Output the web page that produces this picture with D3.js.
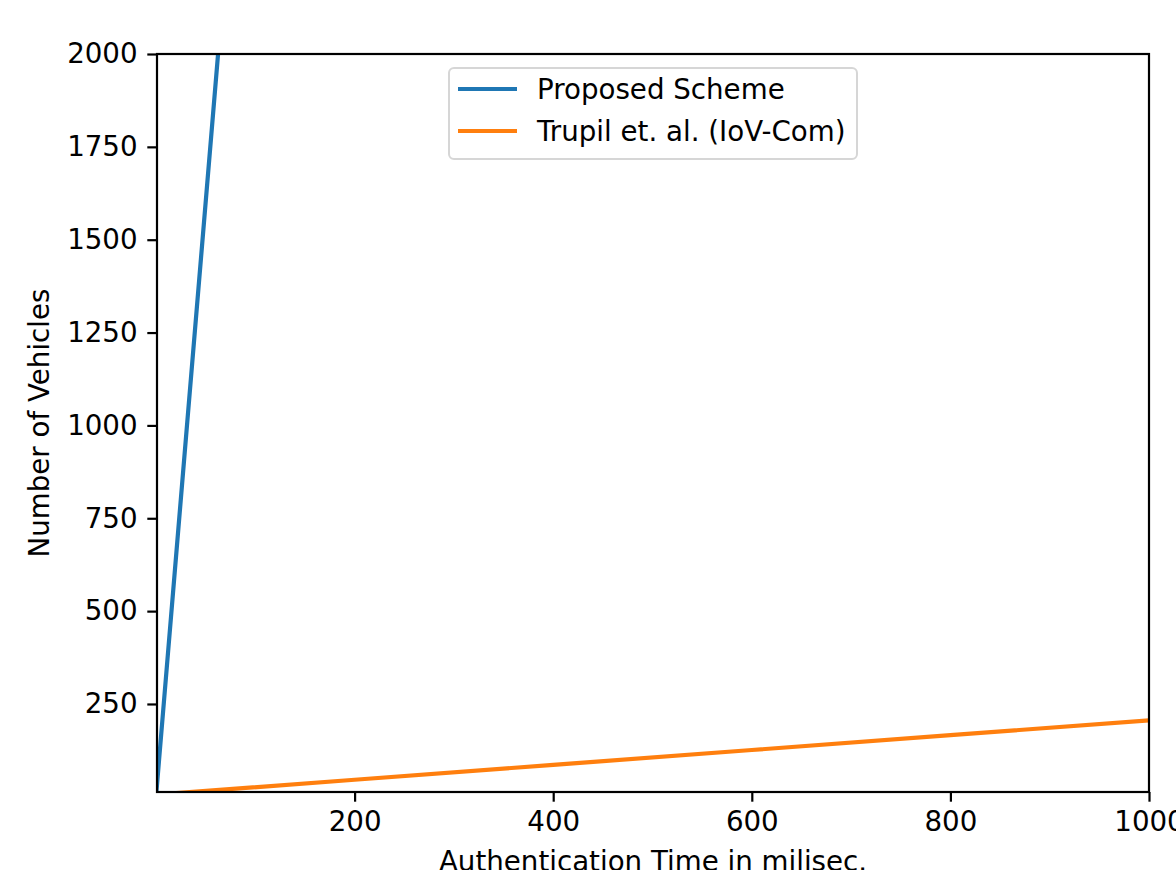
<!DOCTYPE html>
<html>
<head>
<meta charset="utf-8">
<script src="https://cdn.jsdelivr.net/npm/d3@7"></script>
<style>
  html, body { margin: 0; padding: 0; background: #fff; overflow: hidden; }
  svg { display: block; font-family: "DejaVu Sans", sans-serif; }
</style>
</head>
<body>
<svg id="chart" width="1176" height="870"></svg>
<script>
// ---- data ----
const seriesNames = ["Proposed Scheme", "Trupil et. al. (IoV-Com)"];
const seriesColors = ["#1f77b4", "#ff7f0e"];
const proposedTime = [0.31, 3.1, 31.2, 62.5];
const proposedVehicles = [10, 100, 1000, 2000];
const trupilTime = [0, 200, 400, 600, 800, 1000];
const trupilVehicles = [6, 46, 86, 126, 166, 206];
const xTicks = [200, 400, 600, 800, 1000];
const yTicks = [250, 500, 750, 1000, 1250, 1500, 1750, 2000];
const xLabel = "Authentication Time in milisec.";
const yLabel = "Number of Vehicles";

(function () {
const svg = d3.select("#chart");
const pL = 157, pR = 1149, pT = 54, pB = 792;
const fs = 27.7;
const tickLen = 9.7, tickPad = 9.7;

const x = d3.scaleLinear().domain([1, 1000]).range([pL, pR]);
const y = d3.scaleLinear().domain([13, 2000]).range([pB, pT]);

svg.append("defs").append("clipPath").attr("id", "clip")
  .append("rect").attr("x", pL).attr("y", pT)
  .attr("width", pR - pL).attr("height", pB - pT);

const series = [
  { name: seriesNames[0], color: seriesColors[0], pts: proposedTime.map((t, i) => [t, proposedVehicles[i]]) },
  { name: seriesNames[1], color: seriesColors[1], pts: trupilTime.map((t, i) => [t, trupilVehicles[i]]) }
];

const line = d3.line().x(d => x(d[0])).y(d => y(d[1]));
const g = svg.append("g").attr("clip-path", "url(#clip)");
series.forEach(s => {
  g.append("path").datum(s.pts).attr("d", line)
    .attr("fill", "none").attr("stroke", s.color).attr("stroke-width", 4.2)
    .attr("stroke-linecap", "square");
});

// axes
const fmt = d3.format("d");
const xAxis = d3.axisBottom(x).tickValues(xTicks).tickFormat(fmt).tickSizeInner(tickLen).tickSizeOuter(0).tickPadding(tickPad);
const yAxis = d3.axisLeft(y).tickValues(yTicks).tickFormat(fmt).tickSizeInner(tickLen).tickSizeOuter(0).tickPadding(tickPad);

const gx = svg.append("g").attr("transform", `translate(0,${pB})`).call(xAxis);
const gy = svg.append("g").attr("transform", `translate(${pL},0)`).call(yAxis);
[gx, gy].forEach(a => {
  a.select(".domain").remove();
  a.selectAll(".tick line").attr("stroke", "#000").attr("stroke-width", 2.2);
  a.selectAll(".tick text").attr("fill", "#000").style("font-size", fs + "px")
    .style("font-family", "DejaVu Sans, sans-serif");
});

// frame
svg.append("rect").attr("x", pL).attr("y", pT)
  .attr("width", pR - pL).attr("height", pB - pT)
  .attr("fill", "none").attr("stroke", "#000").attr("stroke-width", 2.2);

// axis labels
svg.append("text").attr("x", (pL + pR) / 2).attr("y", 871)
  .attr("text-anchor", "middle").style("font-size", fs + "px").attr("fill", "#000")
  .text(xLabel);
svg.append("text").attr("transform", `translate(49,${(pT + pB) / 2}) rotate(-90)`)
  .attr("text-anchor", "middle").style("font-size", fs + "px").attr("fill", "#000")
  .text(yLabel);

// legend
const lg = svg.append("g");
lg.append("rect").attr("x", 449).attr("y", 68).attr("width", 408).attr("height", 91)
  .attr("rx", 5).attr("fill", "#fff").attr("fill-opacity", 0.8)
  .attr("stroke", "#d6d6d6").attr("stroke-width", 2);
series.forEach((s, i) => {
  const ly = 89 + i * 42;
  lg.append("line").attr("x1", 458).attr("x2", 517).attr("y1", ly).attr("y2", ly)
    .attr("stroke", s.color).attr("stroke-width", 4.2);
  lg.append("text").attr("x", 537).attr("y", ly).attr("dy", "0.36em")
    .style("font-size", fs + "px").attr("fill", "#000").text(s.name);
});
})();
</script>
</body>
</html>
